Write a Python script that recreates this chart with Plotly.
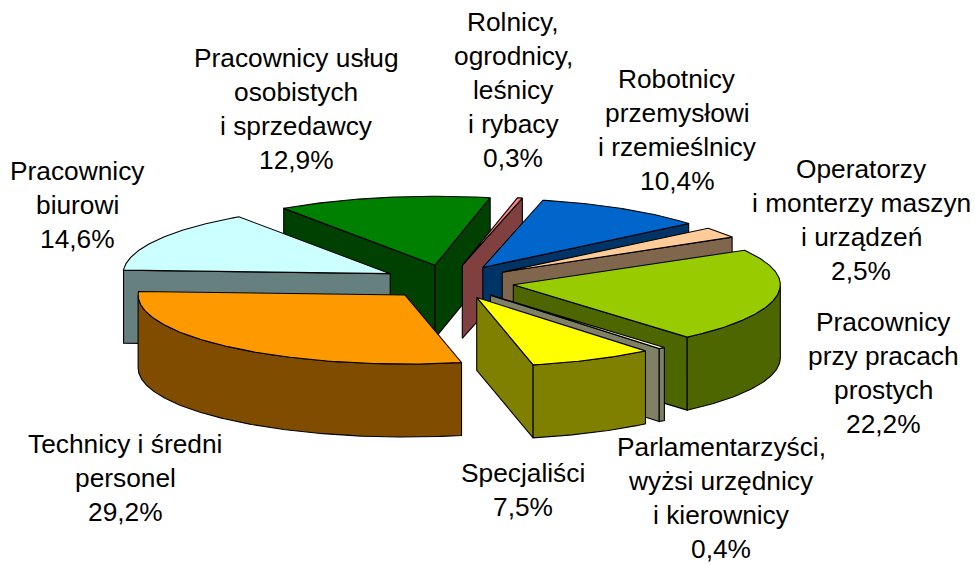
import numpy as np
import plotly.graph_objects as go

categories = ["Robotnicy przemysłowi i rzemieślnicy", "Operatorzy i monterzy maszyn i urządzeń",
              "Pracownicy przy pracach prostych", "Parlamentarzyści, wyżsi urzędnicy i kierownicy",
              "Specjaliści", "Technicy i średni personel", "Pracownicy biurowi",
              "Pracownicy usług osobistych i sprzedawcy", "Rolnicy, ogrodnicy, leśnicy i rybacy"]
values = [10.4, 2.5, 22.2, 0.4, 7.5, 29.2, 14.6, 12.9, 0.3]
top_colors = ["#0066CC", "#FFCC99", "#99CC00", "#FFFFCC", "#FFFF00", "#FF9900", "#CCFFFF", "#008000", "#FF8080"]
side_colors = ["#003366", "#80664D", "#4D6600", "#808066", "#808000", "#804D00", "#668080", "#004000", "#804040"]
draw_order = [7, 8, 0, 6, 1, 2, 3, 4, 5]

label_lines = [
    ["Robotnicy", "przemysłowi", "i rzemieślnicy", "10,4%"],
    ["Operatorzy", "i monterzy maszyn", "i urządzeń", "2,5%"],
    ["Pracownicy", "przy pracach", "prostych", "22,2%"],
    ["Parlamentarzyści,", "wyżsi urzędnicy", "i kierownicy", "0,4%"],
    ["Specjaliści", "7,5%"],
    ["Technicy i średni", "personel", "29,2%"],
    ["Pracownicy", "biurowi", "14,6%"],
    ["Pracownicy usług", "osobistych", "i sprzedawcy", "12,9%"],
    ["Rolnicy,", "ogrodnicy,", "leśnicy", "i rybacy", "0,3%"],
]
label_x = [677, 861, 883, 721, 523, 125, 77, 296, 513]
label_y = [79, 169, 322, 447, 473, 444, 171, 58, 22]

CX, CY, RX, RY, DEPTH, EXPLODE = 448, 282, 267, 69, 73, 0.248
START = 13.0
LINE_PITCH = 34
FONT = dict(family="Liberation Sans, Arial, sans-serif", size=26.3, color="#000000")


def ground(angle_deg, radius=1.0):
    a = np.radians(angle_deg)
    return RX * radius * np.sin(a), -RY * radius * np.cos(a)


fig = go.Figure()


def add_face(xs, ys, color):
    fig.add_trace(go.Scatter(x=list(xs) + [xs[0]], y=list(ys) + [ys[0]], mode="lines",
                             fill="toself", fillcolor=color, hoverinfo="skip",
                             line=dict(color="#000000", width=1.1), showlegend=False))


edges = START + np.concatenate([[0], np.cumsum(values)]) * 3.6
for i in draw_order:
    a0, a1 = edges[i], edges[i + 1]
    ox, oy = ground((a0 + a1) / 2, EXPLODE)
    ax, ay = CX + ox, CY + oy
    angles = np.linspace(a0, a1, max(int(a1 - a0) * 2, 3))
    rim_x, rim_y = ground(angles)
    rim_x, rim_y = ax + rim_x, ay + rim_y
    # radial walls that face the viewer
    if np.sin(np.radians(a0)) < 0:
        add_face([ax, rim_x[0], rim_x[0], ax], [ay, rim_y[0], rim_y[0] + DEPTH, ay + DEPTH], side_colors[i])
    if np.sin(np.radians(a1)) > 0:
        add_face([ax, rim_x[-1], rim_x[-1], ax], [ay, rim_y[-1], rim_y[-1] + DEPTH, ay + DEPTH], side_colors[i])
    # front part of the outer wall
    a_norm = np.mod(angles, 360)
    front = (a_norm >= 90) & (a_norm <= 270)
    if front.sum() >= 2:
        fx, fy = rim_x[front], rim_y[front]
        add_face(list(fx) + list(fx[::-1]), list(fy) + list(fy[::-1] + DEPTH), side_colors[i])
    # top face
    add_face([ax] + list(rim_x), [ay] + list(rim_y), top_colors[i])

annotations = []
for lines, x, y in zip(label_lines, label_x, label_y):
    for k, line in enumerate(lines):
        annotations.append(dict(x=x, y=y + k * LINE_PITCH, text=line, showarrow=False, xanchor="center",
                                yanchor="middle", font=FONT, xref="x", yref="y", borderpad=0))

fig.update_layout(width=975, height=565, margin=dict(l=0, r=0, t=0, b=0), autosize=False,
                  paper_bgcolor="white", plot_bgcolor="white", showlegend=False,
                  annotations=annotations,
                  xaxis=dict(range=[0, 975], visible=False, fixedrange=True),
                  yaxis=dict(range=[565, 0], visible=False, fixedrange=True))
fig.write_html("out.html", config=dict(displayModeBar=False),
               post_script="document.body.style.margin='0';document.documentElement.style.overflow='hidden';")
